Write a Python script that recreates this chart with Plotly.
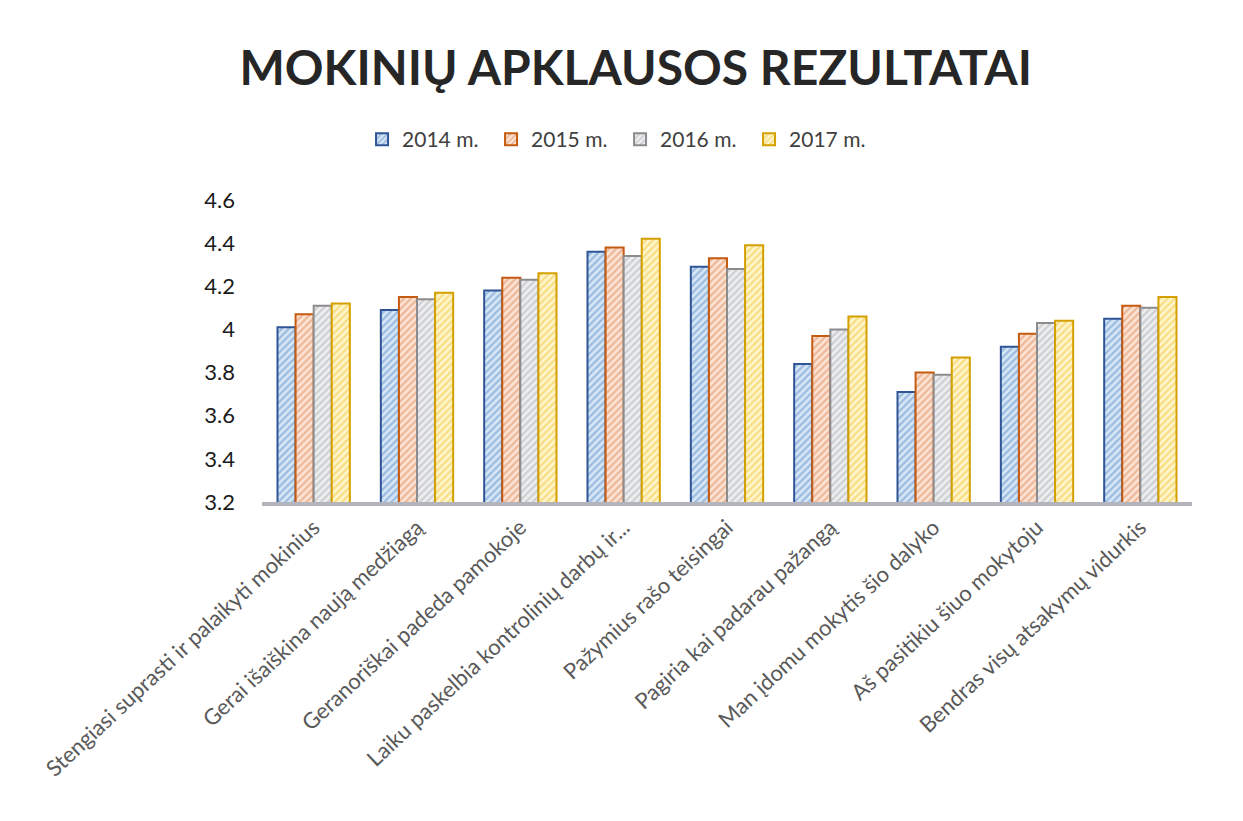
import plotly.graph_objects as go

categories = [
    "Stengiasi suprasti ir palaikyti mokinius",
    "Gerai išaiškina naują medžiagą",
    "Geranoriškai padeda pamokoje",
    "Laiku paskelbia kontrolinių darbų ir...",
    "Pažymius rašo teisingai",
    "Pagiria kai padarau pažangą",
    "Man įdomu mokytis šio dalyko",
    "Aš pasitikiu šiuo mokytoju",
    "Bendras visų atsakymų vidurkis",
]
series_names = ["2014 m.", "2015 m.", "2016 m.", "2017 m."]
v2014 = [4.01, 4.09, 4.18, 4.36, 4.29, 3.84, 3.71, 3.92, 4.05]
v2015 = [4.07, 4.15, 4.24, 4.38, 4.33, 3.97, 3.80, 3.98, 4.11]
v2016 = [4.11, 4.14, 4.23, 4.34, 4.28, 4.00, 3.79, 4.03, 4.10]
v2017 = [4.12, 4.17, 4.26, 4.42, 4.39, 4.06, 3.87, 4.04, 4.15]
y_ticks = [3.2, 3.4, 3.6, 3.8, 4.0, 4.2, 4.4, 4.6]
y_tick_labels = ["3.2", "3.4", "3.6", "3.8", "4", "4.2", "4.4", "4.6"]

styles = [
    dict(bg="#d6e6f5", fg="#5f8fcc", line="#2f5597"),
    dict(bg="#fbe3d4", fg="#e08a5c", line="#c55a11"),
    dict(bg="#eeeeee", fg="#aab1ba", line="#8c8c8c"),
    dict(bg="#fff5cc", fg="#f0c63a", line="#d4a000"),
]

fig = go.Figure()
for name, vals, st in zip(series_names, [v2014, v2015, v2016, v2017], styles):
    fig.add_trace(go.Bar(
        x=categories, y=vals, name=name,
        marker=dict(
            color=st["bg"],
            line=dict(color=st["line"], width=2),
            pattern=dict(shape="/", fgcolor=st["fg"], size=5, solidity=0.45, fillmode="overlay"),
        ),
    ))

fig.update_layout(
    width=1243, height=821,
    paper_bgcolor="white", plot_bgcolor="white",
    barmode="group", bargap=0.3, bargroupgap=0.0,
    margin=dict(l=254, r=59, t=192, b=327, autoexpand=False),
    title=dict(text="<b>MOKINIŲ APKLAUSOS REZULTATAI</b>", x=0.505, xanchor="center",
               y=1 - 60 / 821, yanchor="middle",
               font=dict(family="Lato", size=48, color="#262626")),
    legend=dict(orientation="h", x=0.385, xanchor="center", y=1.2, yanchor="middle",
                font=dict(family="Lato", size=21, color="#404040"),
                itemwidth=30, traceorder="normal",
                entrywidth=84, entrywidthmode="pixels"),
    font=dict(family="Lato"),
)
fig.update_yaxes(range=[3.2, 4.6], tickvals=y_ticks, ticktext=y_tick_labels,
                 showgrid=False, zeroline=False, showline=False,
                 tickfont=dict(size=22, color="#1a1a1a"), ticklabelstandoff=26)
fig.update_xaxes(showline=True, linecolor="#b4b4bc", linewidth=4,
                 tickangle=-43, tickfont=dict(size=22, color="#595959"), ticks="")

fig.write_html("out.html")
